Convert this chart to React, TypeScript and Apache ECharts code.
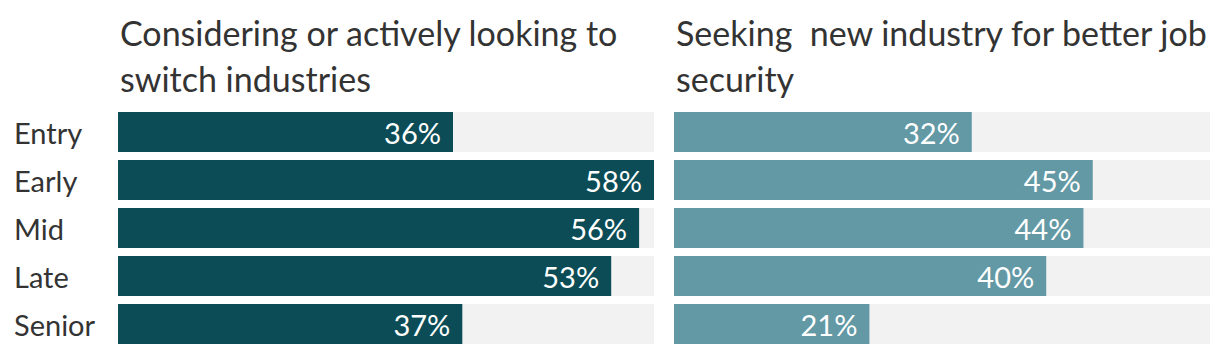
import React, { useEffect, useRef } from "react";
import * as echarts from "echarts";

const categories = ["Entry", "Early", "Mid", "Late", "Senior"];
const switchIndustries = [36, 58, 56, 53, 37];
const jobSecurity = [32, 45, 44, 40, 21];
const titles = [
  "Considering or actively looking to\nswitch industries",
  "Seeking  new industry for better job\nsecurity",
];
const axisMax = 57.6;

const FONT = "Lato";

export default function App() {
  const ref = useRef<HTMLDivElement>(null);
  useEffect(() => {
    document.body.style.margin = "0";
    const chart = echarts.init(ref.current!, null, { renderer: "svg" });
    const barLabel = {
      show: true,
      position: "insideRight",
      distance: 12,
      color: "#ffffff",
      fontSize: 29,
      fontFamily: FONT,
      formatter: (p: any) => p.value + "%",
    };
    chart.setOption({
      animation: false,
      textStyle: { fontFamily: FONT },
      title: titles.map((t, i) => ({
        text: t,
        left: i === 0 ? 115 : 671,
        top: 4,
        textStyle: {
          fontFamily: FONT,
          fontSize: 34,
          fontWeight: "normal",
          color: "#333333",
          lineHeight: 46,
        },
      })),
      grid: [
        { left: 118, width: 536, top: 108, height: 240 },
        { left: 674, width: 536, top: 108, height: 240 },
      ],
      xAxis: [0, 1].map((i) => ({
        type: "value",
        gridIndex: i,
        min: 0,
        max: axisMax,
        show: false,
      })),
      yAxis: [0, 1].map((i) => ({
        type: "category",
        gridIndex: i,
        data: categories,
        inverse: true,
        axisLine: { show: false },
        axisTick: { show: false },
        splitLine: { show: false },
        axisLabel: {
          show: i === 0,
          align: "left",
          margin: 104,
          fontSize: 29,
          fontFamily: FONT,
          color: "#333333",
        },
      })),
      series: [
        {
          type: "bar",
          xAxisIndex: 0,
          yAxisIndex: 0,
          data: switchIndustries,
          barWidth: 40,
          clip: true,
          itemStyle: { color: "#0b4c56" },
          showBackground: true,
          backgroundStyle: { color: "#f2f2f2" },
          label: barLabel,
        },
        {
          type: "bar",
          xAxisIndex: 1,
          yAxisIndex: 1,
          data: jobSecurity,
          barWidth: 40,
          clip: true,
          itemStyle: { color: "#6299a5" },
          showBackground: true,
          backgroundStyle: { color: "#f2f2f2" },
          label: barLabel,
        },
      ],
    });
    return () => chart.dispose();
  }, []);
  return <div ref={ref} style={{ width: 1220, height: 354 }} />;
}
